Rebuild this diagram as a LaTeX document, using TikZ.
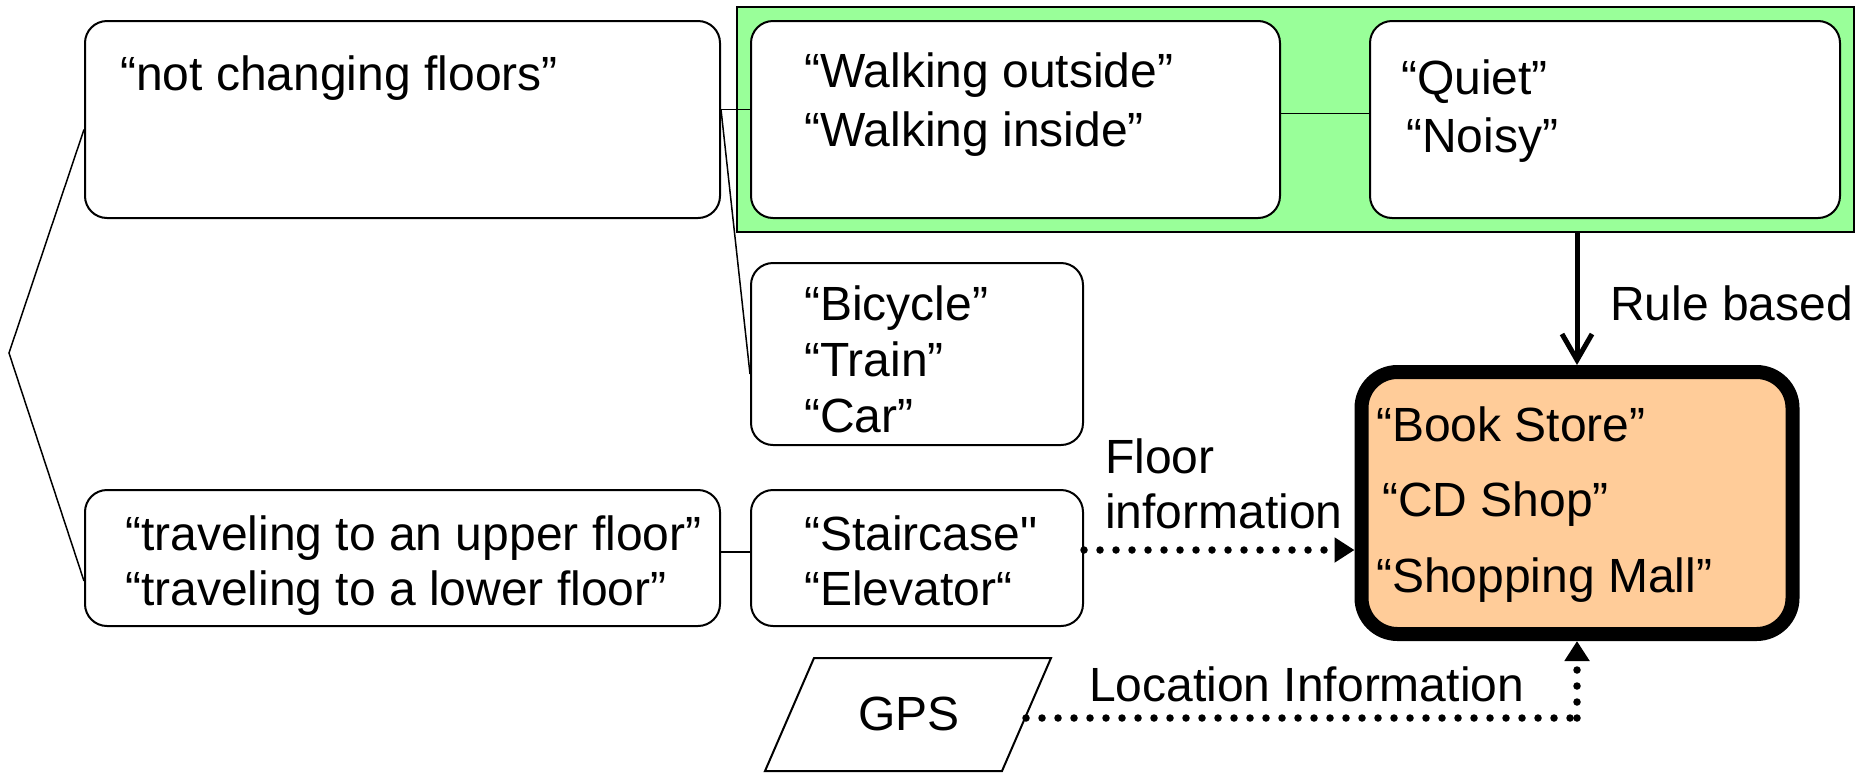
\documentclass[tikz,border=0pt]{standalone}
\usepackage{fontspec}
\setmainfont{Liberation Sans}[Ligatures=TeXOff]
\usetikzlibrary{arrows.meta}
\definecolor{gfill}{HTML}{99FF99}
\definecolor{ofill}{HTML}{FFCC99}
\begin{document}
\begin{tikzpicture}[x=1pt,y=-1pt,
  font=\fontsize{48}{57}\selectfont,
  box/.style={draw, line width=2pt, rounded corners=22pt, fill=white, inner sep=0pt},
  txt/.style={anchor=base west, inner sep=0pt},
  thinline/.style={line width=1.5pt},
  dotarrow/.style={line width=7.5pt, line cap=round, dash pattern=on 0pt off 16pt,
     -{Triangle[length=20pt,width=24pt]}},
  dotline/.style={line width=7.5pt, line cap=round, dash pattern=on 0pt off 16pt},
  rulearrow/.style={line width=5pt, -{Straight Barb[length=26pt,width=30pt]}}
]
\useasboundingbox (0,0) rectangle (1860,772);
% green group
\node[draw, line width=2pt, fill=gfill, minimum width=1117pt, minimum height=225pt, inner sep=0pt] (green) at (1295.5,119.5) {};
% boxes
\node[box, minimum width=635pt, minimum height=197pt] (nc) at (402.5,119.5) {};
\node[box, minimum width=529pt, minimum height=197pt] (walk) at (1015.5,119.5) {};
\node[box, minimum width=470pt, minimum height=197pt] (quiet) at (1605,119.5) {};
\node[box, minimum width=332pt, minimum height=182pt] (bike) at (917,354) {};
\node[box, minimum width=635pt, minimum height=136pt] (trav) at (402.5,558) {};
\node[box, minimum width=332pt, minimum height=136pt] (stair) at (917,558) {};
\node[draw, line width=14pt, rounded corners=36pt, fill=ofill, minimum width=431pt, minimum height=262pt, inner sep=0pt] (book) at (1577,503) {};
% GPS parallelogram
\draw[line width=2pt, line join=miter] (814,658) -- (1051,658) -- (1002,771) -- (765,771) -- cycle;
\coordinate (gpsE) at (1026,718);
\coordinate (brk) at (9,353);
% texts
\node[txt] (t1) at (120,90) {“not changing floors”};
\node[txt] (t2) at (804,87) {“Walking outside”};
\node[txt] (t3) at (804,146) {“Walking inside”};
\node[txt] (t4) at (1401,94) {“Quiet”};
\node[txt] (t5) at (1406,152) {“Noisy”};
\node[txt] (t6) at (804,320) {“Bicycle”};
\node[txt] (t7) at (804,376) {“Train”};
\node[txt] (t8) at (804,432) {“Car”};
\node[txt] (t9) at (125,550) {“traveling to an upper floor”};
\node[txt] (t10) at (125,605) {“traveling to a lower floor”};
\node[txt] (t11) at (804,550) {“Staircase"};
\node[txt] (t12) at (804,605) {“Elevator“};
\node[txt] (t13) at (1105,473) {Floor};
\node[txt] (t14) at (1105,528) {information};
\node[txt] (t15) at (1376,441) {“Book Store”};
\node[txt] (t16) at (1382,516) {“CD Shop”};
\node[txt] (t17) at (1376,592) {“Shopping Mall”};
\node[txt] (t18) at (1610,320) {Rule based};
\node[anchor=base, inner sep=0pt] (gps) at (909,730) {GPS};
\node[txt] (t19) at (1089,701) {Location Information};
% thin connectors
\draw[thinline] ([yshift=-10pt]nc.west) -- (brk) -- ([yshift=-23pt]trav.west);
\draw[thinline] ([yshift=10pt]nc.east) -- ([yshift=10pt]nc.east -| walk.west);
\draw[thinline] ([yshift=10pt]nc.east) -- ([yshift=-20pt]bike.west);
\draw[thinline] ([yshift=6pt]walk.east) -- ([yshift=6pt]walk.east -| quiet.west);
\draw[thinline] ([yshift=6pt]trav.east) -- ([yshift=6pt]trav.east -| stair.west);
% arrows
\draw[rulearrow] (book.north |- green.south) -- (book.north);
\draw[dotarrow] ([yshift=8pt]stair.east) -- ([yshift=8pt]stair.east -| book.west);
\draw[dotline] (gpsE) -- (gpsE -| book.south);
\draw[dotarrow] (gpsE -| book.south) -- (book.south);
\end{tikzpicture}
\end{document}
